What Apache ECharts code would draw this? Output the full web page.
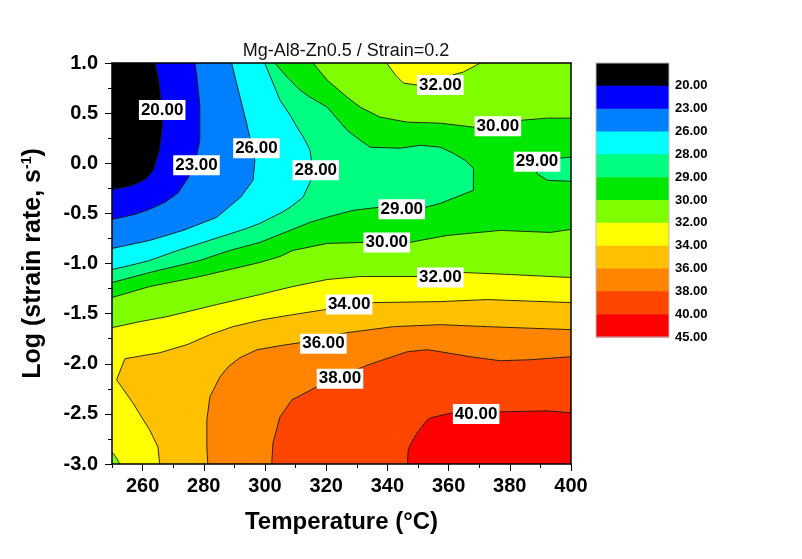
<!DOCTYPE html>
<html><head><meta charset="utf-8">
<script src="https://cdn.jsdelivr.net/npm/echarts@6/dist/echarts.min.js"></script>
<style>html,body{margin:0;padding:0;background:#fff}#c{width:802px;height:559px}</style>
</head><body><div id="c"></div>
<script>
// ---- data ----
const titleText = 'Mg-Al8-Zn0.5 / Strain=0.2';
const xMin = 250, xMax = 400, yMin = -3, yMax = 1;
const xMajorTicks = [260, 280, 300, 320, 340, 360, 380, 400];
const levels = [20, 23, 26, 28, 29, 30, 32, 34, 36, 38, 40, 45];
const bandColors = ['#000000','#0000FF','#0080FF','#00FFFF','#00FF80','#00E800','#80FF00','#FFFF00','#FFC000','#FF8400','#FF4600','#FF0000'];

// contour lines [temperature, log strain rate]
const c20 = [[264.0,1.00],[265.3,0.83],[266.0,0.63],[266.5,0.38],[265.5,0.13],[263.5,-0.07],[261.0,-0.16],[256.8,-0.22],[252.5,-0.25],[250,-0.26]];
const c23 = [[277.1,1.00],[277.7,0.88],[278.7,0.58],[278.7,0.23],[277.4,0.03],[274.8,-0.15],[271.5,-0.30],[267.3,-0.39],[262.3,-0.46],[257.5,-0.51],[250,-0.56]];
const c26 = [[289.1,1.00],[290.7,0.80],[294.0,0.40],[296.7,0.03],[296.1,-0.17],[292.0,-0.34],[284.2,-0.54],[273.2,-0.67],[262.3,-0.77],[250,-0.85]];
const c28 = [[299.9,1.00],[302.2,0.83],[304.9,0.63],[308.2,0.48],[310.5,0.36],[313.1,0.23],[314.7,0.13],[315.4,-0.02],[315.0,-0.17],[312.4,-0.34],[308.2,-0.44],[304.9,-0.50],[298.3,-0.60],[294.0,-0.65],[286.9,-0.72],[278.7,-0.80],[270.5,-0.88],[262.3,-0.97],[255.8,-1.02],[250,-1.06]];
const c29 = [[303.2,1.00],[307.2,0.86],[311.4,0.73],[314.7,0.66],[320.3,0.56],[326.8,0.33],[331.1,0.23],[334.4,0.16],[344.2,0.15],[350.7,0.18],[357.3,0.16],[361.5,0.10],[365.4,0.03],[368.1,-0.05],[368.1,-0.27],[361.5,-0.35],[357.3,-0.40],[352.4,-0.44],[337.0,-0.44],[328.8,-0.47],[321.3,-0.53],[314.7,-0.59],[304.9,-0.71],[298.3,-0.79],[288.5,-0.87],[278.7,-0.97],[262.3,-1.09],[250,-1.19]];
const c29b = [[400,0.06],[395.9,0.05],[390.5,0.00],[388.7,-0.10],[392.3,-0.17],[400,-0.18]];
const c30a = [[315.7,1.00],[320.3,0.83],[326.8,0.66],[331.1,0.56],[337.6,0.46],[346.5,0.41],[357.3,0.40],[368.1,0.36],[384.1,0.43],[392.3,0.45],[400,0.45]];
const c30b = [[400,-0.66],[393.3,-0.69],[376.9,-0.67],[359.6,-0.72],[350.7,-0.77],[347.4,-0.79],[332.1,-0.79],[320.3,-0.80],[309.1,-0.87],[304.9,-0.93],[298.3,-0.99],[278.7,-1.13],[262.3,-1.23],[250,-1.34]];
const c32a = [[339.8,1.00],[342.6,0.88],[345.2,0.80],[349.7,0.78],[364.8,0.91],[370.4,1.00]];
const c32b = [[400,-1.14],[380.2,-1.11],[364.8,-1.09],[357.3,-1.11],[349.7,-1.13],[331.1,-1.13],[320.3,-1.16],[309.1,-1.23],[304.9,-1.26],[298.3,-1.31],[284.2,-1.41],[268.0,-1.53],[259.1,-1.58],[250,-1.64]];
const c32c = [[250,-2.88],[251.5,-2.94],[252.5,-3.00]];
const c34 = [[400,-1.39],[372.7,-1.36],[357.3,-1.38],[335.4,-1.39],[319.6,-1.46],[309.1,-1.51],[299.3,-1.56],[289.5,-1.63],[282.0,-1.71],[274.5,-1.81],[265.6,-1.89],[254.2,-1.95],[251.5,-2.16],[256.8,-2.39],[262.3,-2.66],[265.0,-2.83],[265.6,-3.00]];
const c36 = [[400,-1.66],[372.7,-1.63],[357.3,-1.61],[341.9,-1.63],[326.8,-1.69],[311.4,-1.79],[304.9,-1.82],[297.4,-1.86],[291.8,-1.94],[288.0,-2.03],[285.3,-2.13],[282.0,-2.33],[281.0,-2.56],[281.0,-2.83],[281.3,-3.00]];
const c38 = [[400,-1.93],[386.7,-1.96],[376.9,-1.97],[367.1,-1.93],[357.3,-1.88],[353.0,-1.86],[346.5,-1.88],[336.7,-1.98],[332.1,-2.03],[324.5,-2.13],[317.0,-2.23],[308.8,-2.36],[304.9,-2.53],[302.6,-2.79],[302.2,-3.00]];
const c40 = [[400,-2.49],[392.3,-2.47],[376.9,-2.48],[361.2,-2.49],[354.0,-2.54],[353.0,-2.56],[349.7,-2.69],[347.4,-2.81],[346.8,-2.86],[346.5,-3.00]];

// contour labels [temperature, log strain rate, text]
const contourLabels = [
  [266.4, 0.53, '20.00'], [277.6, -0.02, '23.00'], [297.2, 0.15, '26.00'], [316.6, -0.07, '28.00'],
  [357.3, 0.78, '32.00'], [376.1, 0.37, '30.00'], [388.9, 0.015, '29.00'], [344.7, -0.46, '29.00'],
  [339.8, -0.79, '30.00'], [357.3, -1.14, '32.00'], [327.5, -1.41, '34.00'], [319.1, -1.80, '36.00'],
  [324.5, -2.15, '38.00'], [369.0, -2.50, '40.00']
];

// ---- build ----
const TL = [xMin, yMax], TR = [xMax, yMax], BR = [xMax, yMin], BL = [xMin, yMin];
const layers = [
  { pts: [TL, TR, BR, BL], band: 0 },
  { pts: [...c20, BL, BR, TR], band: 1 },
  { pts: [...c23, BL, BR, TR], band: 2 },
  { pts: [...c26, BL, BR, TR], band: 3 },
  { pts: [...c28, BL, BR, TR], band: 4 },
  { pts: [...c29, BL, BR, TR], band: 5 },
  { pts: [...c29b], band: 4 },
  { pts: [...c30a, TR], band: 6 },
  { pts: [...c30b, BL, BR], band: 6 },
  { pts: [...c32a], band: 7 },
  { pts: [...c32b, BL, BR], band: 7 },
  { pts: [...c32c, BL], band: 6 },
  { pts: [...c34, BR], band: 8 },
  { pts: [...c36, BR], band: 9 },
  { pts: [...c38, BR], band: 10 },
  { pts: [...c40, BR], band: 11 }
];
const contourLines = [c20, c23, c26, c28, c29, c29b, c30a, c30b, c32a, c32b, c32c, c34, c36, c38, c40];

const FONT = '"Liberation Sans", Arial, sans-serif';
const chart = echarts.init(document.getElementById('c'), null, { renderer: 'canvas' });

const LX = 596, LY = 63, LW = 73, LH = 274;
const bh = LH / bandColors.length;
const legendGraphics = [];
bandColors.forEach((c, i) => legendGraphics.push({
  type: 'rect', shape: { x: LX, y: LY + i * bh, width: LW, height: bh + 0.6 }, style: { fill: c }, z: 1
}));
legendGraphics.push({ type: 'rect', shape: { x: LX, y: LY, width: LW, height: LH }, style: { fill: null, stroke: '#bbb', lineWidth: 1 }, z: 2 });
levels.forEach((v, i) => legendGraphics.push({
  type: 'text', x: LX + LW + 6, y: LY + (i + 1) * bh,
  style: { text: v.toFixed(2), font: 'bold 13px ' + FONT, fill: '#000', verticalAlign: 'middle', textVerticalAlign: 'middle' }, z: 2
}));

const axisLineStyle = { color: '#000', width: 1.5 };
const option = {
  animation: false,
  backgroundColor: '#fff',
  title: {
    text: titleText, left: 341, top: 37, textAlign: 'center',
    textStyle: { fontFamily: FONT, fontSize: 18, fontWeight: 'normal', color: '#111' }
  },
  grid: { left: 112, top: 63, width: 459, height: 401, show: false },
  xAxis: [
    {
      type: 'value', min: xMin, max: xMax, interval: 10, position: 'bottom', z: 10,
      axisLine: { show: true, onZero: false, lineStyle: axisLineStyle },
      axisTick: { show: true, length: 4, lineStyle: { color: '#000', width: 1 } },
      axisLabel: { formatter: v => (v % 20 === 0 ? String(v) : ''), margin: 12, fontFamily: FONT, fontSize: 20, fontWeight: 'bold', color: '#000' },
      splitLine: { show: false },
      name: 'Temperature (°C)', nameLocation: 'middle', nameGap: 46,
      nameTextStyle: { fontFamily: FONT, fontSize: 24, fontWeight: 'bold', color: '#000' }
    },
    {
      type: 'value', min: xMin, max: xMax, position: 'bottom', z: 10,
      axisLine: { show: false, onZero: false }, axisLabel: { show: false }, splitLine: { show: false },
      axisTick: { show: true, customValues: xMajorTicks, length: 7, lineStyle: { color: '#000', width: 1 } }
    },
    {
      type: 'value', min: xMin, max: xMax, position: 'top', z: 10,
      axisLine: { show: true, onZero: false, lineStyle: axisLineStyle },
      axisTick: { show: false }, axisLabel: { show: false }, splitLine: { show: false }
    }
  ],
  yAxis: [
    {
      type: 'value', min: yMin, max: yMax, interval: 0.5, position: 'left', z: 10,
      axisLine: { show: true, onZero: false, lineStyle: axisLineStyle },
      axisTick: { show: true, length: 7, lineStyle: { color: '#000', width: 1 } },
      minorTick: { show: true, splitNumber: 2, length: 4, lineStyle: { color: '#000', width: 1 } },
      axisLabel: { formatter: v => v.toFixed(1), margin: 14, fontFamily: FONT, fontSize: 20, fontWeight: 'bold', color: '#000' },
      splitLine: { show: false }, minorSplitLine: { show: false },
      name: '{a|Log (strain rate, s}{s|-1}{a|)}', nameLocation: 'middle', nameGap: 65, nameRotate: 90,
      nameTextStyle: {
        rich: {
          a: { fontFamily: FONT, fontSize: 25, fontWeight: 'bold', color: '#000' },
          s: { fontFamily: FONT, fontSize: 14, fontWeight: 'bold', color: '#000', padding: [0, 0, 13, 0] }
        }
      }
    },
    {
      type: 'value', min: yMin, max: yMax, position: 'right', z: 10,
      axisLine: { show: true, onZero: false, lineStyle: axisLineStyle },
      axisTick: { show: false }, axisLabel: { show: false }, splitLine: { show: false }
    }
  ],
  graphic: legendGraphics,
  series: [
    {
      type: 'custom', xAxisIndex: 0, yAxisIndex: 0, z: 1, silent: true,
      data: [[xMin, yMin]],
      renderItem: (params, api) => {
        const children = [];
        layers.forEach(L => children.push({
          type: 'polygon', shape: { points: L.pts.map(p => api.coord(p)) },
          style: { fill: bandColors[L.band], stroke: null }
        }));
        contourLines.forEach(line => children.push({
          type: 'polyline', shape: { points: line.map(p => api.coord(p)) },
          style: { stroke: '#1a1a1a', lineWidth: 0.9, fill: null }
        }));
        return { type: 'group', children };
      }
    },
    {
      type: 'scatter', xAxisIndex: 0, yAxisIndex: 0, z: 5, silent: true,
      symbolSize: 0,
      itemStyle: { opacity: 1 },
      data: contourLabels,
      label: {
        show: true, position: 'inside', formatter: p => p.data[2], opacity: 1,
        backgroundColor: '#ffffff', padding: [2, 2, 1, 2],
        color: '#000', fontFamily: FONT, fontSize: 17, fontWeight: 'bold'
      }
    }
  ]
};
chart.setOption(option);
</script></body></html>
